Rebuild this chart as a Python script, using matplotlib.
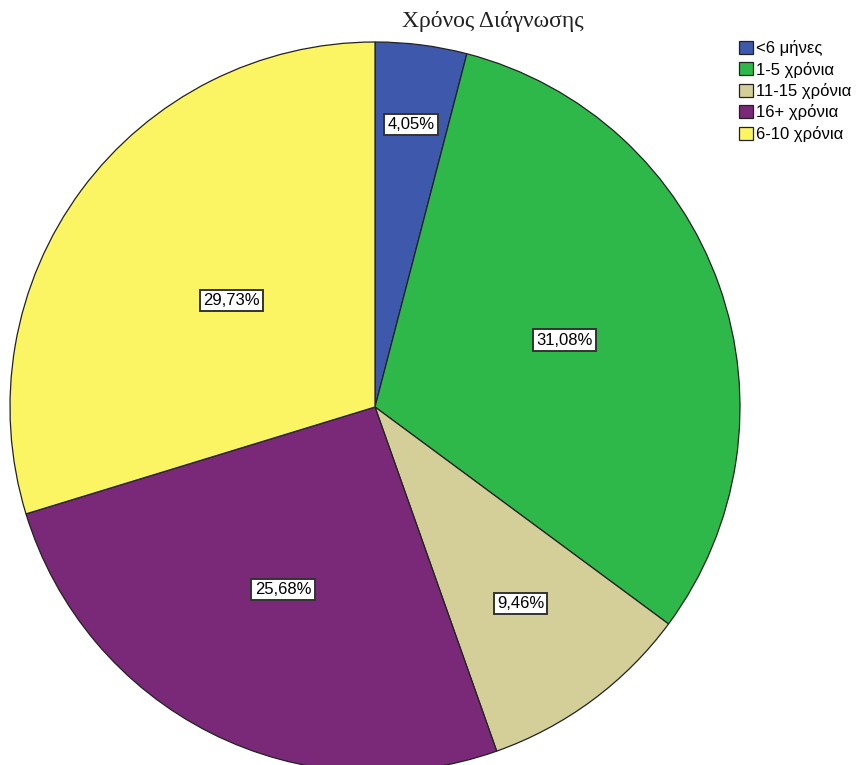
import matplotlib.pyplot as plt
import numpy as np

# Diagnosis time shares (%), clockwise from 12 o'clock
categories = ['<6 μήνες', '1-5 χρόνια', '11-15 χρόνια', '16+ χρόνια', '6-10 χρόνια']
shares = [4.05, 31.08, 9.46, 25.68, 29.73]
colors = ['#3e58ac', '#2eb84a', '#d4cf98', '#7a2878', '#fbf563']
label_dist = [0.78, 0.55, 0.67, 0.56, 0.49]

fig = plt.figure(figsize=(8.62, 7.65), dpi=100)
ax = fig.add_axes([10 / 862, -7 / 765, 730 / 862, 730 / 765])

wedges, _ = ax.pie(shares, colors=colors, startangle=90, counterclock=False,
                   radius=1, wedgeprops=dict(edgecolor='#222222', linewidth=0.9))
ax.set_xlim(-1, 1); ax.set_ylim(-1, 1); ax.set_aspect('equal'); ax.axis('off')

# Percent labels in white boxes
for w, v, d in zip(wedges, shares, label_dist):
    ang = np.deg2rad((w.theta1 + w.theta2) / 2)
    ax.text(d * np.cos(ang), d * np.sin(ang), f'{v:.2f}%'.replace('.', ','),
            ha='center', va='center', fontsize=12, family='Liberation Sans',
            bbox=dict(boxstyle='square,pad=0.2', fc='white', ec='#333333', lw=1.4))

fig.text(493 / 862, 1 - 22 / 765, 'Χρόνος Διάγνωσης', ha='center', va='center',
         fontsize=17, family='Liberation Serif', color='#222222')

fig.legend(wedges, categories, loc='upper left', bbox_to_anchor=(739 / 862, 1 - 40 / 765),
           frameon=False, prop={'family': 'Liberation Sans', 'size': 12},
           handlelength=0.85, handleheight=0.85, handletextpad=0.2, labelspacing=0.33,
           borderpad=0, borderaxespad=0)

fig.savefig('out.png', dpi=100)
